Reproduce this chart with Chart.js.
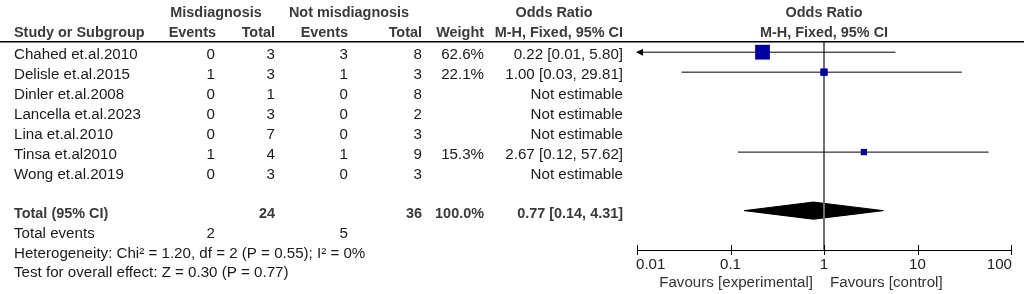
<!DOCTYPE html>
<html><head><meta charset="utf-8">
<script src="https://cdn.jsdelivr.net/npm/chart.js@4/dist/chart.umd.min.js"></script>
<style>html,body{margin:0;padding:0;background:#fff;overflow:hidden}canvas{display:block}</style>
</head><body><canvas id="c" width="1026" height="294"></canvas>
<script>
// ---- data ----
const studies = ['Chahed et.al.2010','Delisle et.al.2015','Dinler et.al.2008','Lancella et.al.2023','Lina et.al.2010','Tinsa et.al2010','Wong et.al.2019'];
const expEvents = [0,1,0,0,0,1,0];
const expTotal = [3,3,1,3,7,4,3];
const ctrlEvents = [3,1,0,0,0,1,0];
const ctrlTotal = [8,3,8,2,3,9,3];
const weights = [62.6,22.1,null,null,null,15.3,null];
const orValues = [0.22,1.00,null,null,null,2.67,null];
const ciLow = [0.01,0.03,null,null,null,0.12,null];
const ciHigh = [5.80,29.81,null,null,null,57.62,null];
const totalExp = 24, totalCtrl = 36, totalWeight = '100.0%';
const totalOR = 0.77, totalLow = 0.14, totalHigh = 4.31;
const totalEventsExp = 2, totalEventsCtrl = 5;
const heterogeneity = 'Heterogeneity: Chi\u00B2 = 1.20, df = 2 (P = 0.55); I\u00B2 = 0%';
const overallTest = 'Test for overall effect: Z = 0.30 (P = 0.77)';
const tickValues = [0.01,0.1,1,10,100];
const tickLabels = ['0.01','0.1','1','10','100'];
const favLeft = 'Favours [experimental]', favRight = 'Favours [control]';

// ---- layout helpers ----
const Y_MIN = -0.51, Y_MAX = 9.9;
const TOTAL_ROW = 7.93;
const fmt = (v,d)=>v.toFixed(d);

const datasets = [];
// squares
const sqIdx = orValues.map((v,i)=>v==null?null:i).filter(i=>i!=null);
datasets.push({
  data: sqIdx.map(i=>({x:orValues[i], y:i})),
  pointStyle:'rect',
  pointRadius: sqIdx.map(i=>(3.5+0.18*weights[i])/Math.SQRT2),
  pointHoverRadius: sqIdx.map(i=>(3.5+0.18*weights[i])/Math.SQRT2),
  backgroundColor:'#0000a0', borderColor:'#0000a0', borderWidth:0,
  showLine:false, order:0
});
// CI lines
sqIdx.forEach(i=>{
  datasets.push({
    data:[{x:ciLow[i],y:i},{x:ciHigh[i],y:i}],
    showLine:true, borderColor:'#000', borderWidth:1, pointRadius:0, order:1
  });
});
// null line
datasets.push({
  data:[{x:1,y:Y_MIN},{x:1,y:Y_MAX}],
  showLine:true, borderColor:'#707070', borderWidth:2, pointRadius:0, order:2
});
// diamond
const dh = 0.43;
datasets.push({
  data:[{x:totalLow,y:TOTAL_ROW},{x:totalOR,y:TOTAL_ROW-dh},{x:totalHigh,y:TOTAL_ROW},{x:totalOR,y:TOTAL_ROW+dh},{x:totalLow,y:TOTAL_ROW}],
  showLine:true, fill:'shape', backgroundColor:'#000', borderColor:'#000', borderWidth:1, pointRadius:0, tension:0, order:3
});

const FONT = '"Liberation Sans", Arial, sans-serif';
function txt(ctx, s, x, y, align, bold, color){
  const SX = bold ? 1.03 : 1.08;
  ctx.save();
  ctx.font = (bold?'bold ':'') + '14px ' + FONT;
  ctx.fillStyle = color || '#1a1a1a';
  ctx.textBaseline = 'alphabetic';
  const w = ctx.measureText(s).width*SX;
  let x0 = x;
  if(align==='right') x0 = x - w; else if(align==='center') x0 = x - w/2;
  ctx.translate(x0, y); ctx.scale(SX,1);
  ctx.textAlign='left';
  ctx.fillText(s, 0, 0);
  ctx.restore();
}

const forestPlugin = {
  id:'forest',
  afterDatasetsDraw(chart){
    const ctx = chart.ctx, xs = chart.scales.x, ys = chart.scales.y;
    // arrows for clipped CIs
    sqIdx.forEach(i=>{
      if(ciLow[i] <= xs.min){
        const px = xs.getPixelForValue(xs.min), py = ys.getPixelForValue(i);
        ctx.save(); ctx.fillStyle='#000'; ctx.beginPath();
        ctx.moveTo(px-1,py); ctx.lineTo(px+6,py-3.5); ctx.lineTo(px+6,py+3.5); ctx.closePath(); ctx.fill(); ctx.restore();
      }
    });
  },
  afterDraw(chart){
    const ctx = chart.ctx, xs = chart.scales.x, ys = chart.scales.y;
    const ry = r => ys.getPixelForValue(r);
    // header rule
    ctx.save(); ctx.strokeStyle='#000'; ctx.lineWidth=1.5;
    ctx.beginPath(); ctx.moveTo(0,41.75); ctx.lineTo(1024,41.75); ctx.stroke(); ctx.restore();
    // axis
    ctx.save(); ctx.strokeStyle='#000'; ctx.lineWidth=1;
    ctx.beginPath();
    ctx.moveTo(xs.getPixelForValue(tickValues[0]), 250.5); ctx.lineTo(xs.getPixelForValue(tickValues[tickValues.length-1]), 250.5);
    tickValues.forEach(v=>{ const px=Math.round(xs.getPixelForValue(v))+0.5; ctx.moveTo(px,245); ctx.lineTo(px,255); });
    ctx.stroke(); ctx.restore();
    tickValues.forEach((v,k)=>{
      const px = xs.getPixelForValue(v);
      let al='center', xx=px;
      if(k===0){al='left'; xx=px-1;} else if(k===tickValues.length-1){al='right'; xx=px+1;}
      txt(ctx, tickLabels[k], xx, 269, al, false, '#222');
    });
    const p1 = xs.getPixelForValue(1);
    txt(ctx, favLeft, p1-11, 287, 'right', false, '#333');
    txt(ctx, favRight, p1+6, 287, 'left', false, '#333');

    // headers
    const HC = '#3a3a3a';
    txt(ctx,'Misdiagnosis',216,17,'center',true,HC);
    txt(ctx,'Not misdiagnosis',349,17,'center',true,HC);
    txt(ctx,'Odds Ratio',554,17,'center',true,HC);
    txt(ctx,'Odds Ratio',p1,17,'center',true,HC);
    txt(ctx,'Study or Subgroup',14,37,'left',true,HC);
    txt(ctx,'Events',216,37,'right',true,HC);
    txt(ctx,'Total',275,37,'right',true,HC);
    txt(ctx,'Events',348,37,'right',true,HC);
    txt(ctx,'Total',422,37,'right',true,HC);
    txt(ctx,'Weight',484,37,'right',true,HC);
    txt(ctx,'M-H, Fixed, 95% CI',623,37,'right',true,HC);
    txt(ctx,'M-H, Fixed, 95% CI',p1,37,'center',true,HC);

    // rows
    studies.forEach((s,i)=>{
      const y = ry(i)+7;
      txt(ctx,s,14,y,'left');
      txt(ctx,String(expEvents[i]),215,y,'right');
      txt(ctx,String(expTotal[i]),275,y,'right');
      txt(ctx,String(ctrlEvents[i]),348,y,'right');
      txt(ctx,String(ctrlTotal[i]),422,y,'right');
      if(weights[i]!=null) txt(ctx,fmt(weights[i],1)+'%',484,y,'right');
      const o = orValues[i]!=null ? fmt(orValues[i],2)+' ['+fmt(ciLow[i],2)+', '+fmt(ciHigh[i],2)+']' : 'Not estimable';
      txt(ctx,o,623,y,'right');
    });
    const ty = ry(TOTAL_ROW)+7;
    txt(ctx,'Total (95% CI)',14,ty,'left',true,HC);
    txt(ctx,String(totalExp),275,ty,'right',true,HC);
    txt(ctx,String(totalCtrl),422,ty,'right',true,HC);
    txt(ctx,totalWeight,484,ty,'right',true,HC);
    txt(ctx,fmt(totalOR,2)+' ['+fmt(totalLow,2)+', '+fmt(totalHigh,2)+']',623,ty,'right',true,HC);
    txt(ctx,'Total events',14,238,'left');
    txt(ctx,String(totalEventsExp),215,238,'right');
    txt(ctx,String(totalEventsCtrl),348,238,'right');
    txt(ctx,heterogeneity,14,258,'left');
    txt(ctx,overallTest,14,277,'left');
  }
};

new Chart(document.getElementById('c'), {
  type:'scatter',
  data:{datasets},
  options:{
    responsive:false, animation:false, events:[],
    layout:{padding:{left:637,right:15,top:42,bottom:44}},
    plugins:{legend:{display:false},tooltip:{enabled:false}},
    scales:{
      x:{type:'logarithmic',min:0.01,max:100,display:false},
      y:{type:'linear',min:Y_MIN,max:Y_MAX,reverse:true,display:false}
    }
  },
  plugins:[forestPlugin]
});
</script>
</body></html>
